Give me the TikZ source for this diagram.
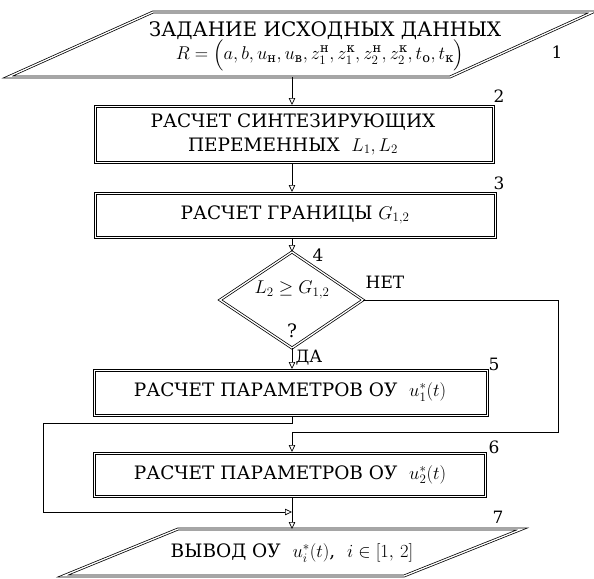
\RequirePackage{fix-cm}
\documentclass[tikz,border=0pt]{standalone}
\usepackage{amsmath}
\usepackage{fontspec}
\setmainfont{DejaVu Serif}
\usetikzlibrary{arrows.meta,shapes.geometric}
\newcommand{\dblbox}[4]{%
  \draw[boxline] (#1,#2) -- (#3,#2) -- (#3,#4) -- (#1,#4) -- cycle;
  \draw[boxline] ({#1+2.1},{#2+2.1}) -- ({#3-2.1},{#2+2.1}) -- ({#3-2.1},{#4-2.1}) -- ({#1+2.1},{#4-2.1}) -- cycle;}
\begin{document}
\begin{tikzpicture}[x=1pt,y=-1pt,
  shapeline/.style={draw=black, double=white, double distance=1.3pt, line width=0.75pt},
  boxline/.style={draw=black, line width=0.75pt},
  conn/.style={line width=0.7pt},
  arr/.style={conn, -{Triangle[open, length=7pt, width=6.5pt]}},
  lab/.style={font=\fontsize{17}{19}\selectfont, inner sep=0pt},
  txt/.style={font=\fontsize{18.5}{24}\selectfont, inner sep=0pt, align=center},
]
\useasboundingbox (0,0) rectangle (594,578);

% block 1 (input parallelogram)
\coordinate (p1a) at (8,77);
\coordinate (p1b) at (450,77);
\coordinate (p1c) at (593,12);
\coordinate (p1d) at (153,12);
\draw[shapeline] (p1a) -- (p1b) -- (p1c) -- (p1d) -- cycle;
\node[txt, font=\fontsize{20}{22}\selectfont] (t1a) at (325,31) {ЗАДАНИЕ ИСХОДНЫХ ДАННЫХ};
\node[txt] (t1b) at (320,55)
  {$R=\Bigl(a, b, u_{\text{н}}, u_{\text{в}}, z_1^{\text{н}}, z_1^{\text{к}}, z_2^{\text{н}}, z_2^{\text{к}}, t_{\text{о}}, t_{\text{к}}\Bigr)$};
\coordinate (p1s) at (292,77);

% block 2
\dblbox{94}{105}{494}{163}
\coordinate (b2n) at (292,105);  \coordinate (b2s) at (292,163);
\node[txt] (b2) at (293,134) {РАСЧЕТ СИНТЕЗИРУЮЩИХ\\ПЕРЕМЕННЫХ \ $L_1, L_2$};
% block 3
\dblbox{94}{192}{496}{238}
\coordinate (b3n) at (292,192);  \coordinate (b3s) at (292,238);
\node[txt] (b3) at (295,215) {РАСЧЕТ ГРАНИЦЫ $G_{1,2}$};
% block 4 (decision)
\coordinate (d4n) at (292,252); \coordinate (d4e) at (363,300);
\coordinate (d4s) at (292,348); \coordinate (d4w) at (220,300);
\draw[shapeline] (d4n) -- (d4e) -- (d4s) -- (d4w) -- cycle;
\node[txt] (d4t) at (292,290) {$L_2 \geq G_{1,2}$};
\node[txt] (d4q) at (292,331) {?};
% block 5
\dblbox{93}{369}{488}{416}
\coordinate (b5n) at (292,369);  \coordinate (b5s) at (292,416);
\node[txt] (b5) at (290,392) {РАСЧЕТ ПАРАМЕТРОВ ОУ \ $u_1^*(t)$};
% block 6
\dblbox{93}{452}{486}{497}
\coordinate (b6n) at (292,452);  \coordinate (b6s) at (292,497);
\node[txt] (b6) at (290,474.5) {РАСЧЕТ ПАРАМЕТРОВ ОУ \ $u_2^*(t)$};
% block 7 (output parallelogram)
\coordinate (p7a) at (63,576);
\coordinate (p7b) at (404,576);
\coordinate (p7c) at (522,529);
\coordinate (p7d) at (178,529);
\draw[shapeline] (p7a) -- (p7b) -- (p7c) -- (p7d) -- cycle;
\node[txt] (t7) at (292,553) {ВЫВОД ОУ \ $u_i^*(t)$, \ $i\in[1,\,2]$};
\coordinate (p7n) at (292,529);

% helper coordinates
\coordinate (lp1) at (43,423);
\coordinate (lp2) at (43,512);
\coordinate (nr1) at (558,300);
\coordinate (nr2) at (558,432);

% connectors
\draw[arr] (p1s) -- (b2n);
\draw[arr] (b2s) -- (b3n);
\draw[arr] (b3s) -- (d4n);
\draw[arr] (d4s) -- (b5n);
\draw[arr] (b5s) |- (lp1) -- (lp2) -- (b6s |- lp2);
\draw[arr] (d4e) -- (nr1) -- (nr2) -| (b6n);
\draw[arr] (b6s) -- (p7n);

% labels
\node[lab] (n1) at (557,52) {1};
\node[lab] (n2) at (499,96) {2};
\node[lab] (n3) at (499,183) {3};
\node[lab] (n4) at (318,255) {4};
\node[lab] (nno) at (385,282) {НЕТ};
\node[lab] (nyes) at (309,358) {ДА};
\node[lab] (n5) at (494,364) {5};
\node[lab] (n6) at (494,447) {6};
\node[lab] (n7) at (498,517) {7};
\end{tikzpicture}
\end{document}
